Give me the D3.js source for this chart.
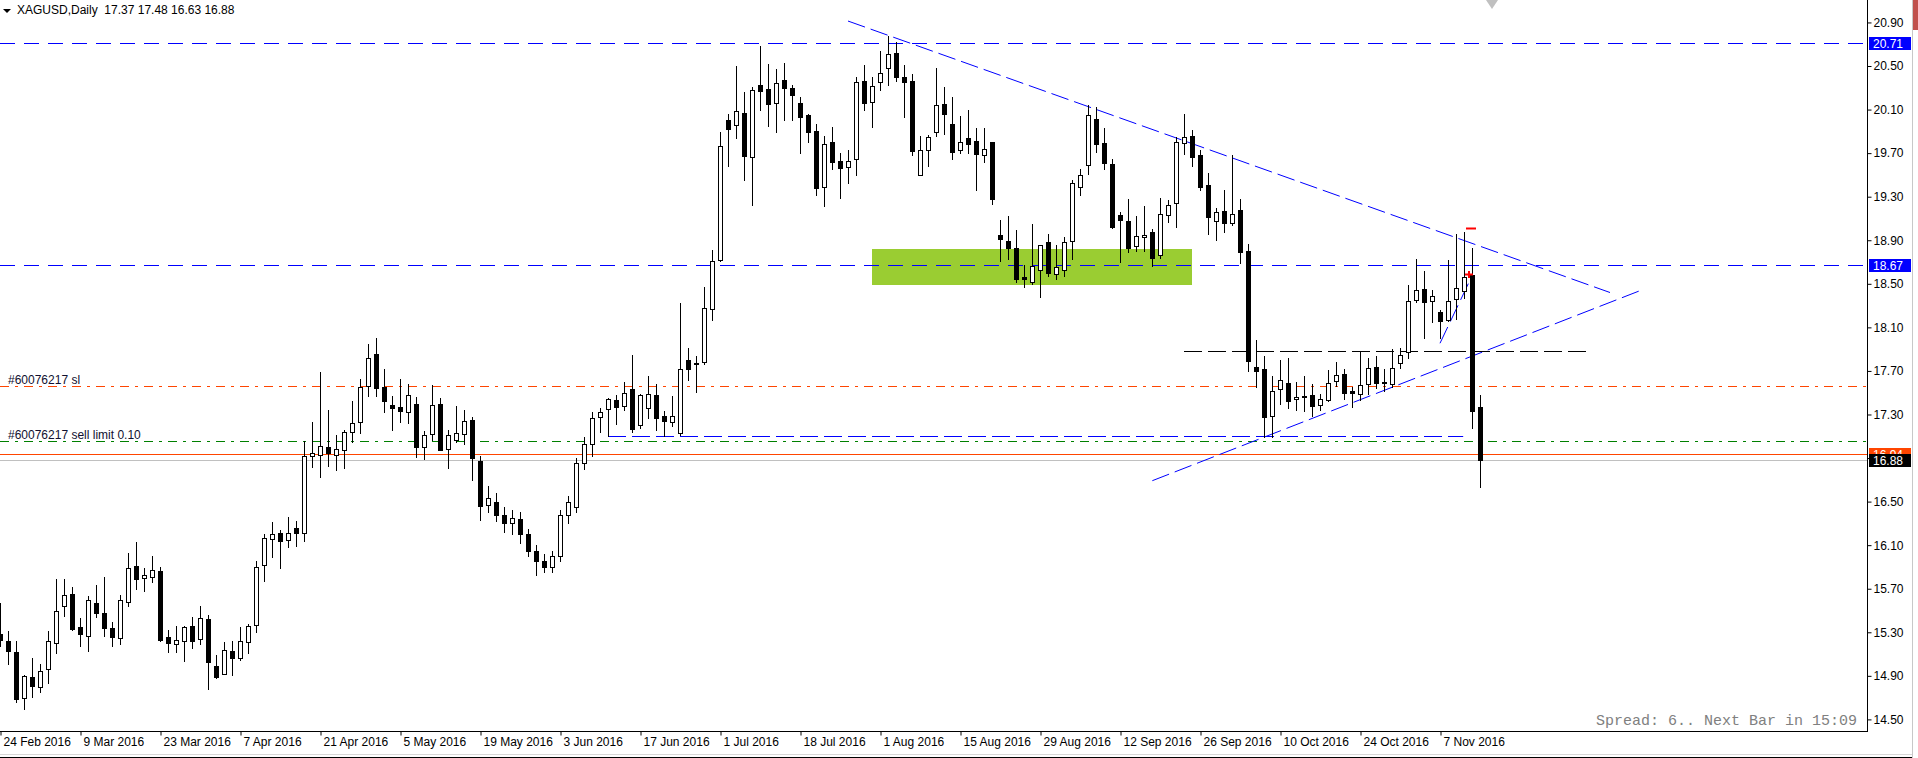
<!DOCTYPE html>
<html>
<head>
<meta charset="utf-8">
<script src="https://cdn.jsdelivr.net/npm/d3@7/dist/d3.min.js"></script>
<style>
  body { margin: 0; background: #fff; overflow: hidden; }
  svg text { font-family: "Liberation Sans", Arial, sans-serif; }
</style>
</head>
<body>
<div id="chart-area"></div>
<script>
// XAGUSD daily, 24 Feb 2016 - 14 Nov 2016 (one entry per bar)
var opens = [15.28,15.22,15.12,14.70,14.89,14.80,14.96,15.20,15.54,15.65,
  15.35,15.27,15.57,15.48,15.34,15.25,15.58,15.91,15.80,15.81,
  15.86,15.26,15.19,15.22,15.36,15.24,15.42,14.99,14.92,15.13,
  15.06,15.21,15.37,15.92,16.16,16.21,16.15,16.26,16.21,16.92,
  16.93,17.00,16.93,16.97,17.14,17.23,17.56,17.86,17.55,17.39,
  17.37,17.32,17.40,17.00,17.12,17.40,16.98,17.07,17.12,17.25,
  16.87,16.47,16.50,16.38,16.30,16.34,16.20,16.05,15.95,15.90,
  16.00,16.38,16.45,16.85,17.03,17.28,17.35,17.43,17.38,17.53,
  17.20,17.36,17.48,17.29,17.23,17.13,17.80,17.77,17.78,18.27,
  18.72,20.00,19.96,20.07,19.66,20.33,20.29,20.16,20.37,20.30,
  20.16,20.05,19.90,19.39,19.80,19.63,19.57,19.65,20.36,20.17,
  20.35,20.48,20.62,20.40,20.36,19.50,19.73,19.89,20.15,19.97,
  19.73,19.84,19.81,19.68,19.80,18.95,18.89,18.83,18.56,18.52,
  18.63,18.88,18.59,18.63,18.89,19.39,19.59,20.01,19.79,19.60,
  19.13,19.08,18.85,18.93,18.98,18.76,19.13,19.24,19.79,19.86,
  19.68,19.41,19.08,19.17,19.06,19.18,18.80,17.74,17.72,17.29,
  17.53,17.59,17.44,17.47,17.48,17.39,17.43,17.61,17.67,17.52,
  17.49,17.58,17.74,17.60,17.58,17.77,17.87,18.35,18.45,18.34,
  18.24,18.17,18.36,18.43,18.58,17.37];
var highs = [15.57,15.31,15.22,14.91,15.06,15.01,15.31,15.79,15.79,15.72,
  15.43,15.63,15.73,15.81,15.39,15.64,16.03,16.13,15.89,16.00,
  15.90,15.32,15.36,15.36,15.44,15.54,15.46,15.09,15.21,15.22,
  15.35,15.38,15.95,16.20,16.31,16.24,16.36,16.32,17.06,17.23,
  17.69,17.34,17.11,17.16,17.42,17.63,17.95,18.00,17.72,17.47,
  17.63,17.58,17.46,17.15,17.57,17.45,17.16,17.38,17.34,17.28,
  16.92,16.64,16.58,16.45,16.42,16.40,16.25,16.10,16.02,16.05,
  16.42,16.55,16.90,17.09,17.32,17.36,17.45,17.48,17.60,17.85,
  17.49,17.65,17.58,17.33,17.47,18.32,17.91,17.84,18.47,18.81,
  19.89,20.06,20.50,20.26,20.31,20.68,20.52,20.47,20.53,20.33,
  20.22,20.06,19.97,19.86,19.94,19.70,19.73,20.40,20.51,20.40,
  20.64,20.78,20.72,20.51,20.43,19.86,19.87,20.48,20.31,20.22,
  20.04,20.10,19.93,19.93,19.80,19.09,19.12,18.99,18.67,19.05,
  18.86,18.96,18.86,18.93,19.45,19.55,20.14,20.12,19.93,19.65,
  19.16,19.28,19.12,19.21,19.00,19.29,19.27,19.85,20.06,19.91,
  19.73,19.52,19.20,19.36,19.68,19.28,18.87,17.98,17.84,17.65,
  17.80,17.82,17.60,17.65,17.58,17.49,17.71,17.78,17.72,17.55,
  17.88,17.82,17.84,17.72,17.90,17.91,18.49,18.73,18.62,18.44,
  18.26,18.72,18.96,18.98,18.83,17.48];
var lows = [15.17,15.01,14.66,14.60,14.71,14.75,14.83,15.11,15.45,15.32,
  15.17,15.13,15.44,15.27,15.17,15.19,15.54,15.70,15.68,15.76,
  15.22,15.12,15.12,15.04,15.16,15.19,14.78,14.88,14.92,14.91,
  15.05,15.11,15.30,15.77,15.99,15.89,16.08,16.09,16.14,16.82,
  16.73,16.83,16.79,16.81,17.05,17.13,17.47,17.47,17.32,17.16,
  17.23,17.22,16.91,16.89,17.07,16.97,16.81,17.05,17.03,16.70,
  16.33,16.40,16.32,16.22,16.20,16.12,16.00,15.83,15.85,15.85,
  15.95,16.30,16.40,16.80,16.92,17.14,17.10,17.21,17.34,17.14,
  17.18,17.27,17.16,17.10,17.19,17.11,17.62,17.51,17.76,18.17,
  18.71,19.58,19.84,19.45,19.22,20.10,19.95,19.89,20.00,20.00,
  19.70,19.80,19.32,19.21,19.55,19.29,19.43,19.50,20.10,19.94,
  20.28,20.33,20.36,20.03,19.68,19.50,19.58,19.86,19.88,19.65,
  19.70,19.70,19.36,19.62,19.23,18.71,18.73,18.52,18.47,18.50,
  18.38,18.57,18.54,18.57,18.73,19.32,19.51,19.71,19.55,19.01,
  18.70,18.79,18.80,18.80,18.66,18.74,19.07,19.02,19.69,19.58,
  19.36,18.96,18.90,18.98,19.04,18.69,17.70,17.55,17.09,17.09,
  17.40,17.36,17.34,17.33,17.29,17.34,17.42,17.56,17.44,17.37,
  17.43,17.49,17.54,17.52,17.55,17.73,17.82,18.33,18.00,18.15,
  18.00,18.16,18.18,18.37,17.18,16.63];
var closes = [15.23,15.13,14.69,14.90,14.81,14.94,15.22,15.50,15.64,15.33,
  15.28,15.60,15.48,15.34,15.26,15.60,15.89,15.79,15.83,15.87,
  15.23,15.20,15.23,15.35,15.22,15.43,15.03,14.89,15.14,15.06,
  15.22,15.36,15.90,16.17,16.20,16.14,16.21,16.21,16.92,16.95,
  17.01,16.95,16.98,17.14,17.22,17.55,17.82,17.54,17.42,17.36,
  17.33,17.48,17.00,17.11,17.39,16.97,17.11,17.13,17.24,16.90,
  16.46,16.53,16.38,16.30,16.35,16.20,16.05,15.95,15.90,16.00,
  16.38,16.50,16.85,17.03,17.27,17.32,17.44,17.37,17.50,17.17,
  17.48,17.49,17.27,17.24,17.29,17.72,17.72,17.76,18.28,18.71,
  19.77,19.92,20.09,19.67,20.28,20.27,20.15,20.34,20.30,20.23,
  20.03,19.89,19.38,19.78,19.62,19.56,19.63,20.35,20.16,20.32,
  20.44,20.61,20.40,20.35,19.72,19.73,19.85,20.14,20.06,19.71,
  19.80,19.78,19.69,19.74,19.28,18.91,18.83,18.54,18.54,18.66,
  18.86,18.60,18.65,18.88,19.43,19.50,20.05,19.78,19.61,19.02,
  19.09,18.83,18.94,18.95,18.74,19.14,19.22,19.80,19.85,19.66,
  19.39,19.11,19.16,19.06,19.14,18.79,17.79,17.70,17.28,17.52,
  17.62,17.42,17.46,17.46,17.38,17.44,17.59,17.66,17.50,17.50,
  17.57,17.73,17.59,17.59,17.73,17.85,18.34,18.44,18.33,18.39,
  18.16,18.34,18.46,18.56,17.33,16.88];

// one date label every 10 bars
var dateLabels = ["24 Feb 2016", "9 Mar 2016", "23 Mar 2016", "7 Apr 2016",
  "21 Apr 2016", "5 May 2016", "19 May 2016", "3 Jun 2016", "17 Jun 2016",
  "1 Jul 2016", "18 Jul 2016", "1 Aug 2016", "15 Aug 2016", "29 Aug 2016",
  "12 Sep 2016", "26 Sep 2016", "10 Oct 2016", "24 Oct 2016", "7 Nov 2016"];

var priceTicks = [14.50, 14.90, 15.30, 15.70, 16.10, 16.50, 16.90, 17.30,
  17.70, 18.10, 18.50, 18.90, 19.30, 19.70, 20.10, 20.50, 20.90];

// levels drawn on the chart
var hLevels = [20.71, 18.67];
var slLevel = 17.56, limitLevel = 17.06, askLevel = 16.94, bidLevel = 16.88;

var W = 1918, H = 758;
var plotW = 1867, plotH = 731;

var svg = d3.select("#chart-area")
  .append("svg")
    .attr("width", W)
    .attr("height", H);

svg.append("rect")
  .attr("width", W).attr("height", H)
  .attr("fill", "#fff");

var x = d3.scaleLinear()
  .domain([0, plotW / 8])
  .range([0, plotW]);

var y = d3.scaleLinear()
  .domain([14.5, 20.9])
  .range([719.4, 22.45]);

function px(v) { return Math.round(x(v)) + 0.5; }
function py(v) { return Math.round(y(v)) + 0.5; }

var bars = opens.map(function(o, i) {
  return { i: i, o: o, h: highs[i], l: lows[i], c: closes[i] };
});

var plot = svg.append("g");

// green support zone
plot.append("rect")
  .attr("x", Math.round(x(109)))
  .attr("y", Math.round(y(18.82)))
  .attr("width", Math.round(x(149)) - Math.round(x(109)))
  .attr("height", Math.round(y(18.485)) - Math.round(y(18.82)))
  .attr("fill", "#9acd32");

// horizontal levels
plot.selectAll(".hlevel")
  .data(hLevels).enter()
  .append("line")
    .attr("class", "hlevel")
    .attr("x1", 0).attr("x2", plotW)
    .attr("y1", py).attr("y2", py)
    .attr("stroke", "#0000ff")
    .attr("stroke-dasharray", "15,9");

plot.append("line")
  .attr("x1", 0).attr("x2", plotW)
  .attr("y1", py(slLevel)).attr("y2", py(slLevel))
  .attr("stroke", "#ff4500")
  .attr("stroke-dasharray", "9,6,3,6");

plot.append("line")
  .attr("x1", 0).attr("x2", plotW)
  .attr("y1", py(limitLevel)).attr("y2", py(limitLevel))
  .attr("stroke", "#008000")
  .attr("stroke-dasharray", "9,6,3,6");

plot.append("line")
  .attr("x1", 0).attr("x2", plotW)
  .attr("y1", py(askLevel)).attr("y2", py(askLevel))
  .attr("stroke", "#ff4500");

plot.append("line")
  .attr("x1", 0).attr("x2", plotW)
  .attr("y1", py(bidLevel)).attr("y2", py(bidLevel))
  .attr("stroke", "#c0c0c0");

// trend lines and segments: [bar1, price1, bar2, price2, colour]
var trendLines = [
  [106, 20.913, 201.25, 18.42, "#0000ff"],
  [144.04, 16.692, 204.9, 18.434, "#0000ff"],
  [180, 17.954, 183.66, 18.52, "#0000ff"],
  [76, 17.10, 182.9, 17.10, "#0000ff"],
  [148, 17.883, 198.3, 17.883, "#000000"]
];

plot.selectAll(".trend")
  .data(trendLines).enter()
  .append("line")
    .attr("class", "trend")
    .attr("x1", function(d) { return x(d[0]); })
    .attr("y1", function(d) { return d[1] === d[3] ? py(d[1]) : y(d[1]); })
    .attr("x2", function(d) { return x(d[2]); })
    .attr("y2", function(d) { return d[1] === d[3] ? py(d[3]) : y(d[3]); })
    .attr("stroke", function(d) { return d[4]; })
    .attr("stroke-width", 1)
    .attr("stroke-dasharray", "18,6");

// candles
var candles = plot.selectAll(".candle")
  .data(bars).enter()
  .append("g")
    .attr("class", "candle");

candles.append("line")
  .attr("x1", function(d) { return px(d.i); })
  .attr("x2", function(d) { return px(d.i); })
  .attr("y1", function(d) { return Math.round(y(d.h)); })
  .attr("y2", function(d) { return Math.round(y(d.l)) + 1; })
  .attr("stroke", "#000");

candles.append("rect")
  .attr("x", function(d) { return px(d.i) - 2; })
  .attr("y", function(d) { return py(Math.max(d.o, d.c)); })
  .attr("width", 4)
  .attr("height", function(d) {
    return Math.max(Math.round(y(Math.min(d.o, d.c))) - Math.round(y(Math.max(d.o, d.c))), 0);
  })
  .attr("fill", function(d) { return d.c < d.o ? "#000" : "#fff"; })
  .attr("stroke", "#000");

// order marks near the last bars
plot.append("line")
  .attr("x1", 1466).attr("x2", 1476)
  .attr("y1", 228.5).attr("y2", 228.5)
  .attr("stroke", "#ff0000").attr("stroke-width", 2);
plot.append("path")
  .attr("d", "M1465,274.5h8M1469,271v7")
  .attr("stroke", "#ff0000").attr("stroke-width", 2);

// order labels
plot.append("text")
  .attr("x", 8).attr("y", py(slLevel) - 3)
  .attr("font-size", "12px")
  .attr("fill", "#101030")
  .text("#60076217 sl");

plot.append("text")
  .attr("x", 8).attr("y", py(limitLevel) - 3)
  .attr("font-size", "12px")
  .attr("fill", "#101030")
  .text("#60076217 sell limit 0.10");

// title
svg.append("path")
  .attr("d", "M3,9h8l-4,4z")
  .attr("fill", "#000");
svg.append("text")
  .attr("x", 17).attr("y", 14)
  .attr("font-size", "12px")
  .text("XAGUSD,Daily  17.37 17.48 16.63 16.88")
  .style("white-space", "pre");

// spread text
svg.append("text")
  .attr("x", 1857).attr("y", 725)
  .attr("text-anchor", "end")
  .style("font-family", "'Liberation Mono', 'Courier New', monospace")
  .attr("font-size", "15px")
  .attr("fill", "#808080")
  .text("Spread: 6.. Next Bar in 15:09");

// frame
svg.append("line")
  .attr("x1", plotW + 0.5).attr("x2", plotW + 0.5)
  .attr("y1", 0).attr("y2", plotH + 1)
  .attr("stroke", "#000");
svg.append("line")
  .attr("x1", 0).attr("x2", plotW + 1)
  .attr("y1", plotH + 0.5).attr("y2", plotH + 0.5)
  .attr("stroke", "#000");

// price axis
var yAxisCall = d3.axisRight(y)
  .tickValues(priceTicks)
  .tickSize(4)
  .tickPadding(2)
  .tickFormat(function(d) { return d.toFixed(2); });

var yAxisG = svg.append("g")
  .attr("class", "y axis")
  .attr("transform", "translate(" + (plotW + 0.5) + ",0)")
  .call(yAxisCall);
yAxisG.select(".domain").remove();
yAxisG.selectAll("text")
  .attr("font-size", "12px")
  .attr("font-family", "'Liberation Sans', Arial, sans-serif")
  .attr("fill", "#000");
yAxisG.selectAll("line").attr("stroke", "#000");

// time axis
var xAxisCall = d3.axisBottom(x)
  .tickValues(d3.range(0, dateLabels.length * 10, 10))
  .tickSize(4)
  .tickFormat(function(d) { return dateLabels[d / 10]; });

var xAxisG = svg.append("g")
  .attr("class", "x axis")
  .attr("transform", "translate(0," + (plotH + 0.5) + ")")
  .call(xAxisCall);
xAxisG.select(".domain").remove();
xAxisG.selectAll("line").attr("stroke", "#000").attr("transform", "translate(0.5,0)");
xAxisG.selectAll("text")
  .attr("text-anchor", "start")
  .attr("x", 3)
  .attr("y", 6)
  .attr("font-size", "12px")
  .attr("font-family", "'Liberation Sans', Arial, sans-serif")
  .attr("fill", "#000");

// price labels on the axis (ask label sits under the bid label)
var tags = [
  { v: 20.71, bg: "#0000ff", fg: "#fff" },
  { v: 18.67, bg: "#0000ff", fg: "#fff" },
  { v: 16.94, bg: "#ff4500", fg: "#fff" },
  { v: 16.88, bg: "#000000", fg: "#fff" }
];

svg.append("clipPath")
  .attr("id", "askclip")
  .append("rect")
    .attr("x", 1869).attr("y", Math.round(y(16.94)) - 6)
    .attr("width", 42).attr("height", Math.round(y(16.88)) - Math.round(y(16.94)));

var tagG = svg.selectAll(".tag")
  .data(tags).enter()
  .append("g")
    .attr("class", "tag")
    .attr("clip-path", function(d) { return d.v === askLevel ? "url(#askclip)" : null; });
tagG.append("rect")
  .attr("x", 1869)
  .attr("y", function(d) { return Math.round(y(d.v)) - 6; })
  .attr("width", 42).attr("height", 13)
  .attr("fill", function(d) { return d.bg; });
tagG.append("text")
  .attr("x", 1873)
  .attr("y", function(d) { return Math.round(y(d.v)) + 5; })
  .attr("font-size", "12px")
  .attr("fill", function(d) { return d.fg; })
  .text(function(d) { return d.v.toFixed(2); });

// window edges
svg.append("line")
  .attr("x1", 1912.5).attr("x2", 1912.5).attr("y1", 0).attr("y2", H)
  .attr("stroke", "#c8c8c8");
svg.append("rect")
  .attr("x", 1913).attr("y", 0).attr("width", 5).attr("height", 30)
  .attr("fill", "#c0504d");
svg.append("line")
  .attr("x1", 0).attr("x2", 1912).attr("y1", 754.5).attr("y2", 754.5)
  .attr("stroke", "#d8d8d8");
svg.append("line")
  .attr("x1", 0).attr("x2", 1912).attr("y1", 757.5).attr("y2", 757.5)
  .attr("stroke", "#000");

// chart shift marker
svg.append("path")
  .attr("d", "M1486,0h12l-6,9z")
  .attr("fill", "#c0c0c0");
</script>
</body>
</html>
